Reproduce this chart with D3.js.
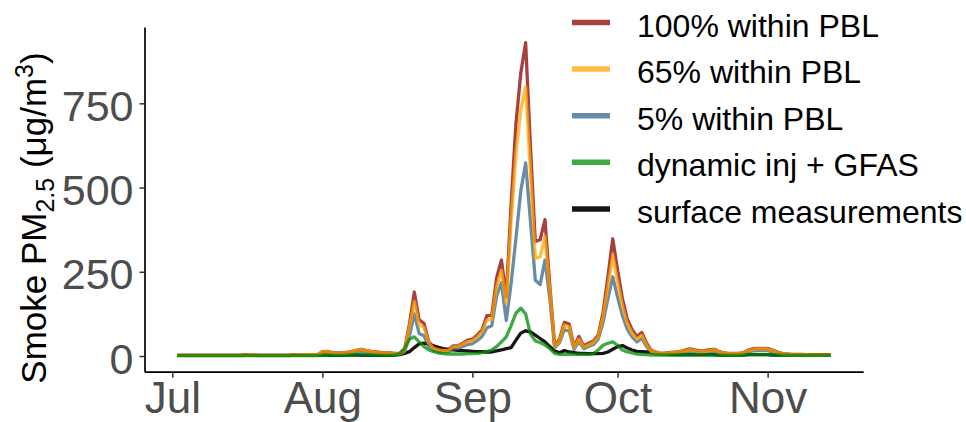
<!DOCTYPE html>
<html>
<head>
<meta charset="utf-8">
<script src="https://cdn.jsdelivr.net/npm/d3@7"></script>
<style>
  html, body { margin: 0; padding: 0; background: #fff; }
  svg { display: block; }
  text { font-family: "Liberation Sans", Arial, Helvetica, sans-serif; }
</style>
</head>
<body>
<svg id="chart" width="966" height="422"></svg>
<script>
// Daily smoke PM2.5 (µg/m³), Jul 2 – Nov 14
const firstDay = new Date(2020, 6, 2);
const lastDay = new Date(2020, 10, 14);

const pbl100 = [
  2,2,2,2,2,2,2,2,2,2, 2,2,2,2,3,3,3,2,2,2, 2,2,2,2,3,3,3,3,3,4,
  13,14,11,9,9,11,13,17,20,17, 14,13,11,10,9,8,8,20,95,190,
  107,97,42,26,20,18,19,30,30,38, 47,50,62,78,120,120,232,285,175,450,
  690,840,930,620,340,345,405,210,30,50, 100,95,28,58,30,38,45,62,130,235,
  348,255,170,110,78,58,70,38,16,12, 8,9,11,12,14,18,21,18,15,16,
  19,20,13,9,8,8,8,10,18,22, 23,23,23,18,12,8,6,5,5,5, 4,4,4,4,4,4
];
const pbl65 = [
  2,2,2,2,2,2,2,2,2,2, 2,2,2,2,2,3,3,2,2,2, 2,2,2,2,2,3,3,3,3,3,
  12,13,10,8,8,10,12,16,19,16, 13,12,10,9,8,7,7,17,85,162,
  92,85,38,23,18,16,17,27,28,35, 43,46,57,72,107,108,206,255,155,400,
  600,730,800,545,290,295,355,195,27,45, 92,87,25,50,27,33,40,57,118,205,
  300,220,148,97,68,50,62,33,14,11, 7,8,10,11,13,16,19,16,13,14,
  17,18,11,8,7,7,7,9,16,20, 21,21,21,16,10,7,5,4,4,4, 4,3,3,3,3,3
];
const pbl5 = [
  1,1,1,1,1,1,1,1,1,1, 1,1,1,1,2,2,2,1,1,1, 1,1,1,1,2,2,2,2,2,2,
  8,9,7,6,6,7,8,11,13,11, 9,8,7,6,6,5,5,12,60,125,
  67,60,30,17,13,12,13,21,22,28, 34,37,46,58,84,90,178,218,105,216,
  350,490,573,400,225,212,285,170,24,40, 78,75,20,43,22,28,34,50,100,170,
  235,175,120,80,57,42,53,27,11,8, 5,6,7,8,10,12,14,12,10,11,
  13,14,8,6,5,5,5,7,12,15, 16,16,16,12,8,5,4,3,3,3, 3,3,3,3,3,3
];
const dynamicGfas = [
  1,1,1,1,1,1,1,1,1,1, 1,1,1,1,1,1,1,1,1,1, 1,1,1,1,1,1,1,1,1,1,
  2,2,2,2,2,2,3,3,3,3, 3,2,2,2,2,3,8,23,50,57,
  42,28,18,13,9,7,6,6,6,6, 7,7,8,10,13,18,28,42,57,90,
  127,142,125,65,45,40,33,22,8,5, 5,6,5,5,5,5,7,18,32,38,
  42,32,18,12,9,6,5,4,3,3, 3,3,3,3,3,3,3,3,3,3,
  3,3,2,2,2,2,2,3,4,4, 4,4,4,3,3,2,2,2,2,2, 2,2,2,2,2,2
];
const surface = [
  2,2,2,2,2,2,2,2,2,2, 2,2,2,2,2,2,2,2,2,2, 2,2,2,2,2,2,2,2,2,2,
  3,3,2,2,2,3,3,3,2,2, 2,2,2,2,2,3,4,8,13,25,
  36,38,35,30,26,22,20,18,17,16, 15,14,13,13,12,12,15,18,22,25,
  47,68,75,72,62,52,42,28,15,10, 16,12,10,8,8,7,7,7,8,12,
  20,28,31,24,18,14,13,12,10,8, 6,5,4,4,4,4,4,4,4,4,
  4,4,3,3,3,3,3,3,4,4, 4,4,4,3,3,3,3,3,3,3, 3,3,3,3,3,3
];

const seriesNames = ["100% within PBL", "65% within PBL", "5% within PBL", "dynamic inj + GFAS", "surface measurements"];
const seriesColors = ["#8B0000", "#FFA500", "#36648B", "#008B00", "#000000"];
const seriesAlpha = [0.75, 0.75, 0.75, 0.75, 0.92];
const yTickValues = [0, 250, 500, 750];
const xTickDates = [new Date(2020, 6, 1), new Date(2020, 7, 1), new Date(2020, 8, 1), new Date(2020, 9, 1), new Date(2020, 10, 1)];

const days = d3.timeDay.range(firstDay, d3.timeDay.offset(lastDay, 1));
const allSeries = [pbl100, pbl65, pbl5, dynamicGfas, surface];

const svg = d3.select("#chart");
const panel = { left: 144.5, right: 863.2, top: 27, bottom: 371.7 };

// ggplot-style 5% padding on both scales
const spanDays = (lastDay - firstDay);
const x = d3.scaleTime()
  .domain([new Date(+firstDay - spanDays * 0.05), new Date(+lastDay + spanDays * 0.05)])
  .range([panel.left, panel.right]);

const yMax = d3.max(allSeries, s => d3.max(s));
const y = d3.scaleLinear()
  .domain([-0.05 * yMax, 1.05 * yMax])
  .range([panel.bottom, panel.top]);

const line = d3.line()
  .x((d, i) => x(days[i]))
  .y(d => y(d));

// drawing order: observations underneath, model runs over them
const drawOrder = [4, 2, 0, 1, 3];
svg.append("g").selectAll("path")
  .data(drawOrder)
  .join("path")
  .attr("d", k => line(allSeries[k]))
  .attr("fill", "none")
  .attr("stroke", k => seriesColors[k])
  .attr("stroke-opacity", k => seriesAlpha[k])
  .attr("stroke-width", 3.3)
  .attr("stroke-linejoin", "round");

// axes
const xAxis = svg.append("g")
  .attr("transform", `translate(0,${panel.bottom})`)
  .call(d3.axisBottom(x).tickValues(xTickDates).tickFormat(d3.timeFormat("%b")).tickSize(6).tickSizeOuter(0));
xAxis.select(".domain").attr("stroke", "#000").attr("stroke-width", 1.7);
xAxis.selectAll(".tick line").attr("stroke", "#333").attr("stroke-width", 1.5);
xAxis.selectAll(".tick text")
  .attr("y", 41.5).attr("dy", 0)
  .attr("font-size", 44).attr("fill", "#4D4D4D")
  .style("font-family", '"Liberation Sans", Arial, sans-serif');

const yAxis = svg.append("g")
  .attr("transform", `translate(${panel.left},0)`)
  .call(d3.axisLeft(y).tickValues(yTickValues).tickSize(5).tickSizeOuter(0));
yAxis.select(".domain").attr("stroke", "#000").attr("stroke-width", 1.7);
yAxis.selectAll(".tick line").attr("stroke", "#333").attr("stroke-width", 1.5);
yAxis.selectAll(".tick text")
  .attr("x", -11).attr("y", 17).attr("dy", 0)
  .attr("font-size", 43).attr("fill", "#4D4D4D")
  .style("font-family", '"Liberation Sans", Arial, sans-serif');

// y-axis title with sub/superscripts
const title = svg.append("text")
  .attr("transform", "translate(46,218) rotate(-90)")
  .attr("text-anchor", "middle")
  .attr("font-size", 35)
  .attr("fill", "#000");
title.append("tspan").text("Smoke PM");
title.append("tspan").attr("font-size", 25).attr("dy", 8).text("2.5");
title.append("tspan").attr("font-size", 35).attr("dy", -8).text(" (μg/m");
title.append("tspan").attr("font-size", 25).attr("dy", -13).text("3");
title.append("tspan").attr("font-size", 35).attr("dy", 13).text(")");

// legend
const legendTop = 22.5, legendStep = 46.6;
const legend = svg.append("g");
seriesNames.forEach((name, k) => {
  const ly = legendTop + k * legendStep;
  legend.append("line")
    .attr("x1", 572).attr("x2", 610).attr("y1", ly).attr("y2", ly)
    .attr("stroke", seriesColors[k])
    .attr("stroke-opacity", seriesAlpha[k])
    .attr("stroke-width", 5.5);
  legend.append("text")
    .attr("x", 637).attr("y", ly + 14)
    .attr("font-size", 32).attr("fill", "#000")
    .text(name);
});
</script>
</body>
</html>
